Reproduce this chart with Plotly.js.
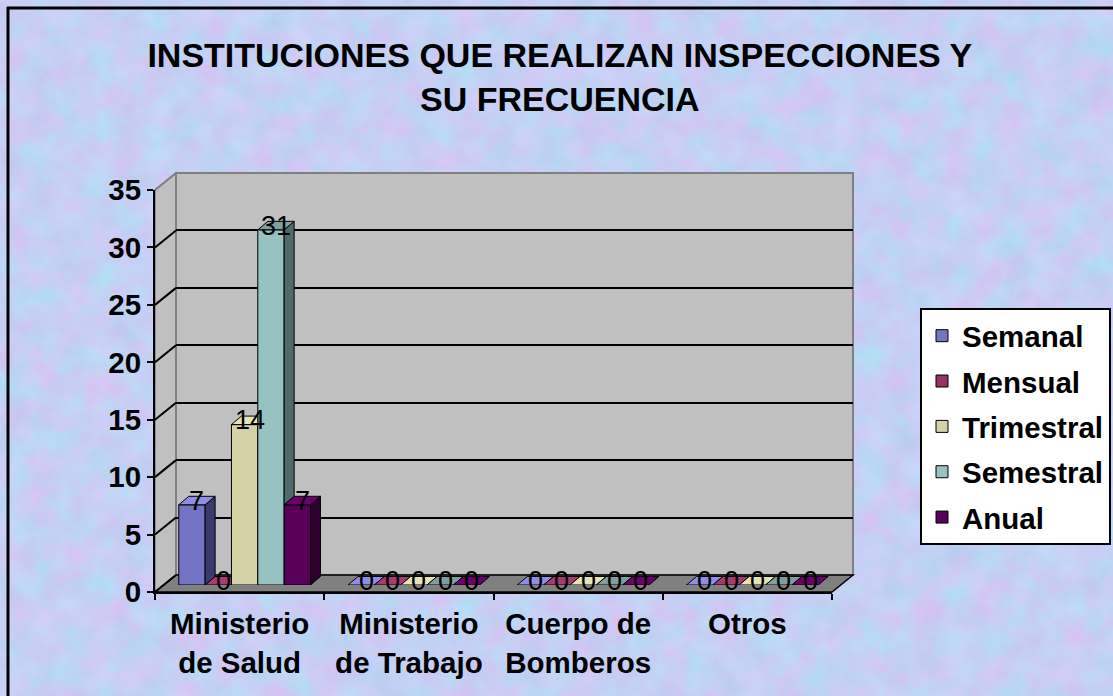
<!DOCTYPE html>
<html>
<head>
<meta charset="utf-8">
<script src="https://cdn.plot.ly/plotly-3.0.1.min.js"></script>
<style>html,body{margin:0;padding:0;background-color:#c8d0ef;}#chart{width:1113px;height:696px;}</style>
</head>
<body>
<div id="chart"></div>
<script>
// ---- data ----
const categories = ['Ministerio de Salud', 'Ministerio de Trabajo', 'Cuerpo de Bomberos', 'Otros'];
const categoryLabels = ['Ministerio<br>de Salud', 'Ministerio<br>de Trabajo', 'Cuerpo de<br>Bomberos', 'Otros'];
const seriesNames = ['Semanal', 'Mensual', 'Trimestral', 'Semestral', 'Anual'];
const semanal    = [7, 0, 0, 0];
const mensual    = [0, 0, 0, 0];
const trimestral = [14, 0, 0, 0];
const semestral  = [31, 0, 0, 0];
const anual      = [7, 0, 0, 0];
const yTicks = [0, 5, 10, 15, 20, 25, 30, 35];
const titleText = 'INSTITUCIONES QUE REALIZAN INSPECCIONES Y<br>SU FRECUENCIA';

// ---- background texture (pastel marble, decorative) ----
const texSvg = '<svg xmlns="http://www.w3.org/2000/svg" width="1113" height="696">' +
  '<filter id="t" color-interpolation-filters="sRGB"><feTurbulence type="fractalNoise" baseFrequency="0.035" numOctaves="5" seed="7"/>' +
  '<feColorMatrix type="matrix" values="0.18 -0.08 0 0 0.72  -0.06 0.13 0 0 0.78  0.03 0.03 0 0 0.925  0 0 0 0 1"/></filter>' +
  '<rect width="100%" height="100%" filter="url(#t)"/></svg>';
document.body.style.backgroundImage = 'url("data:image/svg+xml;charset=utf-8,' + encodeURIComponent(texSvg) + '")';
document.body.style.backgroundRepeat = 'no-repeat';

// ---- style ----
const values = [semanal, mensual, trimestral, semestral, anual];
const frontColors = ['#7474c6', '#993366', '#d4d2a6', '#96c2c2', '#58005a'];
const topColors   = ['#8e8ee6', '#a83a72', '#e6e4b6', '#7f9f9f', '#6c006c'];
const sideColors  = ['#3a3a6e', '#5c1e3e', '#74745c', '#4e6a6a', '#2c002c'];
const FONT = 'Liberation Sans, Arial, sans-serif';
const W = 1113, H = 696;
const fx = p => p / W, fy = p => 1 - p / H;

// geometry (pixels)
const back  = {x0: 176, x1: 853, y0: 575, y1: 173};
const plane = {x0: 160, x1: 837, y0: 585, y1: 184};
const front = {x0: 155, x1: 832, y0: 592, y1: 190};
const yMax = 35;
const bargap = 0.222;
const nS = seriesNames.length;
const bw = (1 - bargap) / nS;
const dxU = 10 / ((plane.x1 - plane.x0) / categories.length);
const dyU = 8.5 / ((plane.y0 - plane.y1) / yMax);

const traces = [];
seriesNames.forEach((name, i) => {
  traces.push({
    type: 'bar', name: name, x: categories, y: values[i],
    xaxis: 'x2', yaxis: 'y2', legendgroup: name,
    marker: {color: frontColors[i], line: {color: '#000', width: 1}},
    hoverinfo: 'x+y+name'
  });
});
// helper traces so back-wall and front-axis subplots exist
traces.push({type: 'scatter', x: [], y: [], xaxis: 'x', yaxis: 'y', showlegend: false, hoverinfo: 'skip'});
traces.push({type: 'scatter', x: [], y: [], xaxis: 'x3', yaxis: 'y3', showlegend: false, hoverinfo: 'skip'});

const shapes = [];
// outer frame (top and left edges visible)
shapes.push({type: 'line', xref: 'paper', yref: 'paper', x0: fx(7), x1: fx(1120), y0: fy(8), y1: fy(8),
  line: {color: '#000', width: 3}, layer: 'below'});
shapes.push({type: 'line', xref: 'paper', yref: 'paper', x0: fx(8), x1: fx(8), y0: fy(7), y1: fy(710),
  line: {color: '#000', width: 3}, layer: 'below'});
// side wall
shapes.push({type: 'path', xref: 'paper', yref: 'paper', layer: 'below',
  path: `M${fx(front.x0)},${fy(front.y0)} L${fx(front.x0)},${fy(front.y1)} L${fx(back.x0)},${fy(back.y1)} L${fx(back.x0)},${fy(back.y0)} Z`,
  fillcolor: '#c0c0c0', line: {color: '#808080', width: 1.5}});
// back wall
shapes.push({type: 'rect', xref: 'paper', yref: 'paper', layer: 'below',
  x0: fx(back.x0), x1: fx(back.x1), y0: fy(back.y0), y1: fy(back.y1),
  fillcolor: '#c0c0c0', line: {color: '#808080', width: 2}});
// floor
shapes.push({type: 'path', xref: 'paper', yref: 'paper', layer: 'below',
  path: `M${fx(front.x0)},${fy(front.y0)} L${fx(front.x1)},${fy(front.y0)} L${fx(back.x1)},${fy(back.y0)} L${fx(back.x0)},${fy(back.y0)} Z`,
  fillcolor: '#808080', line: {color: '#000', width: 1.5}});
// side-wall grid diagonals
yTicks.forEach(v => {
  const yf = front.y0 - v * (front.y0 - front.y1) / yMax;
  const yb = back.y0 - v * (back.y0 - back.y1) / yMax;
  shapes.push({type: 'line', xref: 'paper', yref: 'paper', layer: 'below',
    x0: fx(front.x0), y0: fy(yf), x1: fx(back.x0), y1: fy(yb),
    line: {color: v === yMax ? '#808080' : '#000', width: 2}});
});

// 3D faces of bars (side + top), computed from the data
const annotations = [];
categories.forEach((c, j) => {
  for (let i = 0; i < nS; i++) {
    const v = values[i][j];
    const vn = i < nS - 1 ? values[i + 1][j] : 0;
    const x0 = j - (1 - bargap) / 2 + i * bw;
    const x1 = x0 + bw;
    if (vn < v) {
      const b = Math.max(vn, 0);
      shapes.push({type: 'path', xref: 'x2', yref: 'y2', layer: 'above',
        path: `M${x1},${b} L${x1},${v} L${x1 + dxU},${v + dyU} L${x1 + dxU},${b + dyU} Z`,
        fillcolor: sideColors[i], line: {color: '#000', width: 1}});
    }
    let topPath;
    if (i < nS - 1 && vn >= v + dyU) {
      topPath = `M${x0},${v} L${x1},${v} L${x1},${v + dyU} L${x0 + dxU},${v + dyU} Z`;
    } else {
      topPath = `M${x0},${v} L${x1},${v} L${x1 + dxU},${v + dyU} L${x0 + dxU},${v + dyU} Z`;
    }
    shapes.push({type: 'path', xref: 'x2', yref: 'y2', layer: 'above',
      path: topPath, fillcolor: topColors[i], line: {color: '#000', width: 1}});
    annotations.push({xref: 'x2', yref: 'y2', x: x0 + bw / 2 + dxU / 2, y: v + dyU / 2,
      text: String(v), showarrow: false, xanchor: 'center', yanchor: 'middle',
      font: {family: FONT, size: 27, color: '#000'}});
  }
});

const layout = {
  width: W, height: H,
  margin: {l: 0, r: 0, t: 0, b: 0},
  paper_bgcolor: 'rgba(0,0,0,0)', plot_bgcolor: 'rgba(0,0,0,0)',
  font: {family: FONT, color: '#000'},
  title: {text: titleText, font: {family: FONT, size: 34, weight: 700, color: '#000'},
    xref: 'container', yref: 'container', x: 0.503, xanchor: 'center', y: fy(67), yanchor: 'top'},
  showlegend: true,
  legend: {x: fx(920), y: fy(308), xanchor: 'left', yanchor: 'top', xref: 'paper', yref: 'paper',
    bgcolor: '#ffffff', bordercolor: '#000', borderwidth: 2,
    font: {family: FONT, size: 29.5, weight: 700, color: '#000'}, tracegroupgap: 4, traceorder: 'grouped'},
  barmode: 'group', bargap: bargap, bargroupgap: 0,
  // back wall (gridlines)
  xaxis: {domain: [fx(back.x0), fx(back.x1)], range: [-0.5, 3.5], showgrid: false, zeroline: false,
    showticklabels: false, ticks: '', showline: false, anchor: 'y', fixedrange: true},
  yaxis: {domain: [fy(back.y0), fy(back.y1)], range: [0, yMax], tickmode: 'array',
    tickvals: yTicks.filter(v => v > 0 && v < yMax), showgrid: true, gridcolor: '#000', gridwidth: 2,
    zeroline: false, showticklabels: false, ticks: '', showline: false, anchor: 'x', fixedrange: true},
  // bar plane
  xaxis2: {domain: [fx(plane.x0), fx(plane.x1)], range: [-0.5, 3.5], type: 'category', visible: false,
    anchor: 'y2', fixedrange: true},
  yaxis2: {domain: [fy(plane.y0), fy(plane.y1)], range: [0, yMax], visible: false, anchor: 'x2', fixedrange: true},
  // front axes
  xaxis3: {domain: [fx(front.x0), fx(front.x1)], range: [-0.5, 3.5], anchor: 'y3',
    tickmode: 'array', tickvals: categories.map((c, k) => k), ticktext: categoryLabels, ticks: '',
    showgrid: false, zeroline: false, showline: true, linecolor: '#000', linewidth: 2,
    minor: {tickmode: 'linear', tick0: -0.5, dtick: 1, ticks: 'outside', ticklen: 6, tickwidth: 2, tickcolor: '#000', showgrid: false},
    tickfont: {family: FONT, size: 29.5, weight: 700, color: '#000'}, ticklabelstandoff: 5, fixedrange: true},
  yaxis3: {domain: [fy(front.y0), fy(front.y1)], range: [0, yMax], anchor: 'x3',
    tickmode: 'array', tickvals: yTicks, ticks: 'outside', ticklen: 6, tickwidth: 2, tickcolor: '#000',
    showgrid: false, zeroline: false, showline: true, linecolor: '#000', linewidth: 2,
    tickfont: {family: FONT, size: 29.5, weight: 700, color: '#000'}, fixedrange: true},
  shapes: shapes,
  annotations: annotations
};

Plotly.newPlot('chart', traces, layout, {staticPlot: true, displayModeBar: false});
</script>
</body>
</html>
